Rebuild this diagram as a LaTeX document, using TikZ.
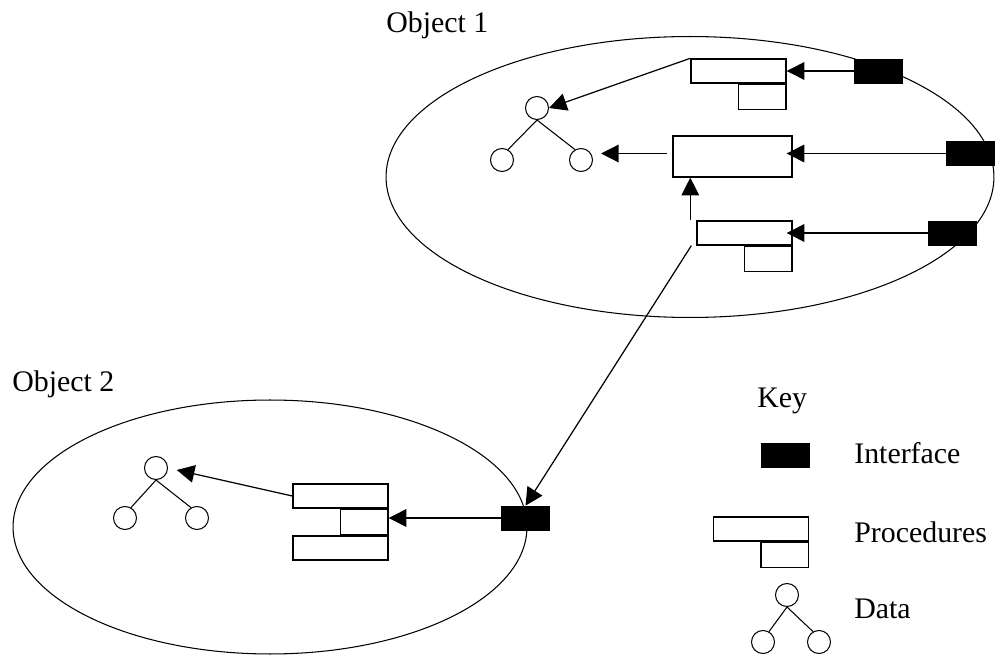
\documentclass[tikz,border=0pt]{standalone}
\usepackage{fontspec}
\setmainfont{Liberation Serif}
\usetikzlibrary{arrows.meta,shapes.geometric,positioning}

\begin{document}
\begin{tikzpicture}[x=0.02cm,y=-0.02cm,
    every node/.append style={font=\fontsize{17}{20}\selectfont},
    blob/.style={draw,ellipse,inner sep=0,line width=0.6pt},
    iface/.style={draw,fill=black,rectangle,inner sep=0,minimum width=0.96cm,minimum height=0.48cm},
    proc/.style={draw,rectangle,inner sep=0,line width=0.8pt,minimum width=1.9cm,minimum height=0.48cm},
    sub/.style={proc,minimum width=0.95cm,minimum height=0.5cm},
    datum/.style={draw,circle,inner sep=0,line width=0.6pt,minimum size=0.46cm},
    lbl/.style={anchor=base west,inner sep=0},
    arr/.style={-{Triangle[length=10pt,width=10pt]},line width=0.7pt},
    tie/.style={line width=0.6pt}]
\useasboundingbox (0,0) rectangle (995,655);

\node[blob,minimum width=12.16cm,minimum height=5.62cm] (obj1) at (690,177) {};
\node[blob,minimum width=10.28cm,minimum height=5.08cm] (obj2) at (270,527) {};
\node[lbl] (obj1lbl) at (386,33) {Object 1};
\node[lbl] (obj2lbl) at (12,392) {Object 2};

\node[iface] (i1a) at (878.5,71) {};
\node[iface] (i1b) at (970.5,153.5) {};
\node[iface] (i1c) at (952.5,233) {};
\node[proc] (p1a) at (738.5,71) {};
\node[sub,anchor=north east] (p1as) at (p1a.south east) {};
\node[proc,minimum width=2.38cm,minimum height=0.82cm] (p1b) at (732.5,156.5) {};
\node[proc] (p1c) at (744.5,233) {};
\node[sub,anchor=north east] (p1cs) at (p1c.south east) {};
\node[datum] (d1t) at (537,108) {};
\node[datum] (d1l) at (502,160) {};
\node[datum] (d1r) at (581,160) {};

\node[iface] (i2) at (525.5,518) {};
\node[proc] (p2a) at (340.5,496) {};
\node[sub,anchor=north east] (p2b) at (p2a.south east) {};
\node[proc,anchor=north east] (p2c) at (p2b.south east) {};
\node[datum] (d2t) at (156,468) {};
\node[datum] (d2l) at (125,518) {};
\node[datum] (d2r) at (197,518) {};

\node[lbl] (keylbl) at (757,408) {Key};
\node[iface] (ki) at (785,455.5) {};
\node[lbl] (kilbl) at (854,463) {Interface};
\node[proc] (kp) at (761,529) {};
\node[sub,anchor=north east] (kps) at (kp.south east) {};
\node[lbl] (kplbl) at (854,542) {Procedures};
\node[datum] (kdt) at (787,595) {};
\node[datum] (kdl) at (763,642) {};
\node[datum] (kdr) at (819,642) {};
\node[lbl] (kdlbl) at (854,618) {Data};

\draw[tie] (d1t.south) -- (d1l.60) (d1t.south) -- (d1r.120);
\draw[tie] (d2t.south) -- (d2l.60) (d2t.south) -- (d2r.120);
\draw[tie] (kdt.south) -- (kdl.60) (kdt.south) -- (kdr.120);

\draw[arr] (i1a.west) -- (p1a.east);
\draw[arr,shorten >=-0.12cm] (i1b.west) -- (i1b.west -| p1b.east);
\draw[arr,shorten >=-0.12cm] (i1c.west) -- (p1c.east);
\draw[arr] (p1a.north west) -- (d1t.east);
\draw[arr,shorten <=0.1cm,shorten >=0.16cm] (p1b.west |- i1b.west) -- (i1b.west -| d1r.east);
\draw[arr] ([xshift=-0.12cm]p1c.north west) -- ([xshift=-0.12cm]p1c.north west |- p1b.south);
\draw[arr] ([xshift=-0.1cm]p1c.south west) -- (i2.north);
\draw[arr] (i2.west) -- (i2.west -| p2b.east);
\draw[arr,shorten >=0.18cm] (p2a.west) -- (d2t.east);
\end{tikzpicture}
\end{document}
